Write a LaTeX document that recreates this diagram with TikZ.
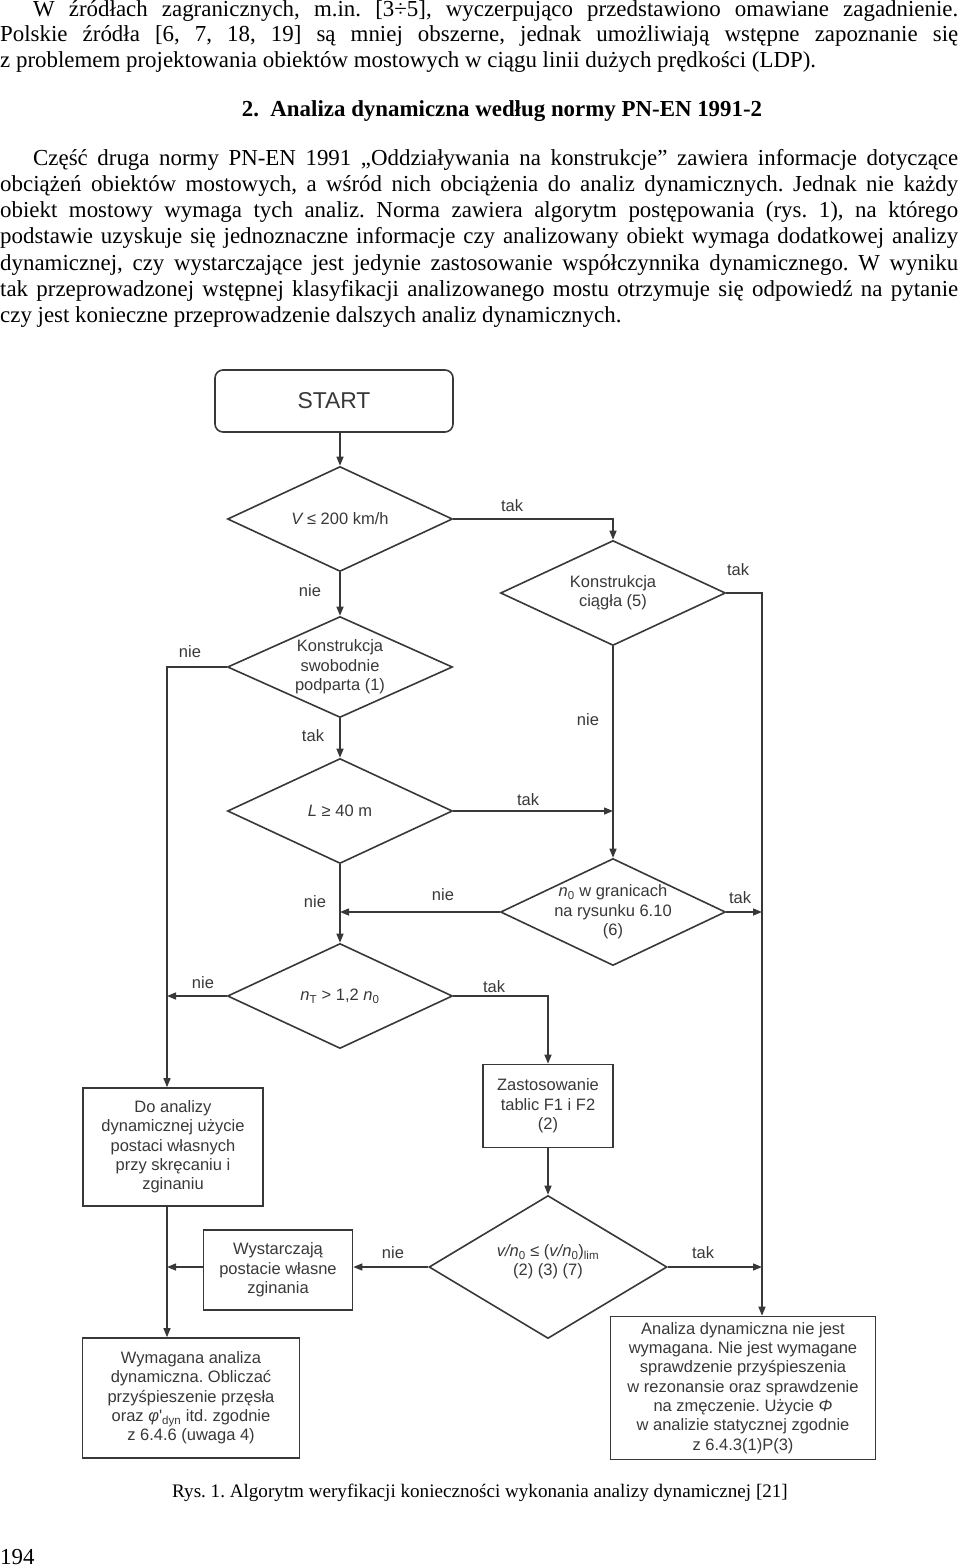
\documentclass[tikz,border=0pt]{standalone}
\usepackage{fontspec}
\setmainfont{Liberation Serif}
\newfontfamily\flowfont{Liberation Sans}
\usetikzlibrary{shapes.geometric,arrows.meta}
\definecolor{flowgray}{gray}{0.22}
\frenchspacing

\newcommand{\bodysize}{\fontsize{22.9}{26.3}\selectfont}
\newcommand{\capsize}{\fontsize{19.1}{22}\selectfont}
\newcommand{\flowsize}{\fontsize{16.5}{19.3}\selectfont}

\tikzset{
  txtline/.style={anchor=base west, inner sep=0pt, font=\bodysize},
  decision/.style={diamond, draw=flowgray, line width=1.6pt,
    minimum width=225pt, minimum height=105pt, inner sep=0pt},
  dtext/.style={text=flowgray, font=\flowfont\flowsize, align=center, inner sep=0pt},
  procbox/.style={rectangle, draw=flowgray, line width=1.6pt, text=flowgray,
    font=\flowfont\flowsize, align=center, inner sep=0pt},
  answer/.style={text=flowgray, font=\flowfont\flowsize, inner sep=0pt},
  conn/.style={draw=flowgray, line width=1.4pt, -{Triangle[length=9pt,width=7pt]}}
}

\begin{document}
\begin{tikzpicture}[x=1pt,y=-1pt]
\useasboundingbox (0,0) rectangle (960,1568);

% page text above the figure
\node[txtline] (p1a) at (33,17) {\makebox[925pt][s]{W źródłach zagranicznych, m.in. [3÷5], wyczerpująco przedstawiono omawiane zagadnienie.}};
\node[txtline] (p1b) at (0,42) {\makebox[958pt][s]{Polskie źródła [6, 7, 18, 19] są mniej obszerne, jednak umożliwiają wstępne zapoznanie się}};
\node[txtline] (p1c) at (0,68) {z problemem projektowania obiektów mostowych w ciągu linii dużych prędkości (LDP).};
\node[anchor=base, inner sep=0pt, font=\bodysize\bfseries] (head) at (502,117) {2.\hspace{0.5em}Analiza dynamiczna według normy PN-EN 1991-2};
\node[txtline] (p2a) at (33,165) {\makebox[925pt][s]{Część druga normy PN-EN 1991 „Oddziaływania na konstrukcje” zawiera informacje dotyczące}};
\node[txtline] (p2b) at (0,191.3) {\makebox[958pt][s]{obciążeń obiektów mostowych, a wśród nich obciążenia do analiz dynamicznych. Jednak nie każdy}};
\node[txtline] (p2c) at (0,217.6) {\makebox[958pt][s]{obiekt mostowy wymaga tych analiz. Norma zawiera algorytm postępowania (rys. 1), na którego}};
\node[txtline] (p2d) at (0,243.9) {\makebox[958pt][s]{podstawie uzyskuje się jednoznaczne informacje czy analizowany obiekt wymaga dodatkowej analizy}};
\node[txtline] (p2e) at (0,270.2) {\makebox[958pt][s]{dynamicznej, czy wystarczające jest jedynie zastosowanie współczynnika dynamicznego. W wyniku}};
\node[txtline] (p2f) at (0,296.5) {\makebox[958pt][s]{tak przeprowadzonej wstępnej klasyfikacji analizowanego mostu otrzymuje się odpowiedź na pytanie}};
\node[txtline] (p2g) at (0,322.8) {czy jest konieczne przeprowadzenie dalszych analiz dynamicznych.};

% start and decisions
\node[procbox, rounded corners=8pt, minimum width=238pt, minimum height=62pt,
  font=\flowfont\fontsize{22.9}{26}\selectfont] (start) at (334,401) {START};
\node[decision] (d1) at (340,519) {};
\node[decision] (d2) at (613,593) {};
\node[decision, minimum height=101pt] (d3) at (340,667) {};
\node[decision] (d4) at (340,811) {};
\node[decision, minimum height=107pt] (d5) at (613,912) {};
\node[decision] (d6) at (340,996) {};
\node[decision, minimum width=238pt, minimum height=143pt] (d7) at (548,1267) {};

\node[dtext] (d1t) at (d1) {{\itshape V} ≤ 200 km/h};
\node[dtext] (d2t) at (d2) {Konstrukcja\\ciągła (5)};
\node[dtext] (d3t) at (d3) {Konstrukcja\\swobodnie\\podparta (1)};
\node[dtext] (d4t) at (d4) {{\itshape L} ≥ 40 m};
\node[dtext] (d5t) at (d5) {{\itshape n}\textsubscript{0} w granicach\\na rysunku 6.10\\(6)};
\node[dtext] (d6t) at (d6) {{\itshape n}\textsubscript{T} > 1,2 {\itshape n}\textsubscript{0}};
\node[dtext, yshift=5pt] (d7t) at (d7) {{\itshape v/n}\textsubscript{0} ≤ ({\itshape v/n}\textsubscript{0})\textsubscript{lim}\\(2) (3) (7)};

% boxes
\node[procbox, minimum width=130pt, minimum height=83pt] (zas) at (548,1106) {Zastosowanie\\tablic F1 i F2\\(2)};
\node[procbox, minimum width=180pt, minimum height=118pt] (doan) at (173,1147) {Do analizy\\dynamicznej użycie\\postaci własnych\\przy skręcaniu i\\zginaniu};
\node[procbox, minimum width=149pt, minimum height=80pt] (wys) at (278,1270) {Wystarczają\\postacie własne\\zginania};
\node[procbox, minimum width=217pt, minimum height=120pt] (wym) at (191,1398) {Wymagana analiza\\dynamiczna. Obliczać\\przyśpieszenie przęsła\\oraz {\itshape φ}'\textsubscript{dyn} itd. zgodnie\\z 6.4.6 (uwaga 4)};
\node[procbox, minimum width=265pt, minimum height=143pt] (ana) at (743,1388) {Analiza dynamiczna nie jest\\wymagana. Nie jest wymagane\\sprawdzenie przyśpieszenia\\w rezonansie oraz sprawdzenie\\na zmęczenie. Użycie {\itshape Φ}\\w analizie statycznej zgodnie\\z 6.4.3(1)P(3)};

% side columns
\coordinate (lc) at (167,0);
\coordinate (rc) at (762,0);

% connectors
\draw[conn] (start.south -| d1.north) -- (d1.north);
\draw[conn] (d1.east) -| (d2.north);
\draw[conn] (d1.south) -- (d3.north);
\draw[conn] (d2.east) -- (rc |- d2.east) -- (rc |- ana.north);
\draw[conn] (d3.west) -- (lc |- d3.west) -- (lc |- doan.north);
\draw[conn] (d3.south) -- (d4.north);
\draw[conn] (d4.east) -- (d4.east -| d2.south);
\draw[conn] (d2.south) -- (d5.north);
\draw[conn] (d5.east) -- (rc |- d5.east);
\draw[conn] (d5.west) -- (d5.west -| d4.south);
\draw[conn] (d4.south) -- (d6.north);
\draw[conn] (d6.west) -- (lc |- d6.west);
\draw[conn] (d6.east) -| (zas.north);
\draw[conn] (zas.south) -- (d7.north);
\draw[conn] (doan.south -| lc) -- (lc |- wym.north);
\draw[conn] (d7.west) -- (d7.west -| wys.east);
\draw[conn] (d7.west -| wys.west) -- (lc |- d7.west);
\draw[conn] (d7.east) -- (rc |- d7.east);

% answers
\node[answer] (a1) at (512,506) {tak};
\node[answer] (a2) at (738,570) {tak};
\node[answer] (a3) at (310,591) {nie};
\node[answer] (a4) at (190,652) {nie};
\node[answer] (a5) at (313,736) {tak};
\node[answer] (a6) at (588,720) {nie};
\node[answer] (a7) at (528,800) {tak};
\node[answer] (a8) at (443,895) {nie};
\node[answer] (a9) at (740,898) {tak};
\node[answer] (a10) at (315,902) {nie};
\node[answer] (a11) at (203,983) {nie};
\node[answer] (a12) at (494,987) {tak};
\node[answer] (a13) at (393,1253) {nie};
\node[answer] (a14) at (703,1253) {tak};

% caption and page number
\node[anchor=base, inner sep=0pt, font=\capsize] (cap) at (480,1497) {Rys. 1. Algorytm weryfikacji konieczności wykonania analizy dynamicznej [21]};
\node[txtline] (pnum) at (0,1564) {194};
\end{tikzpicture}
\end{document}
